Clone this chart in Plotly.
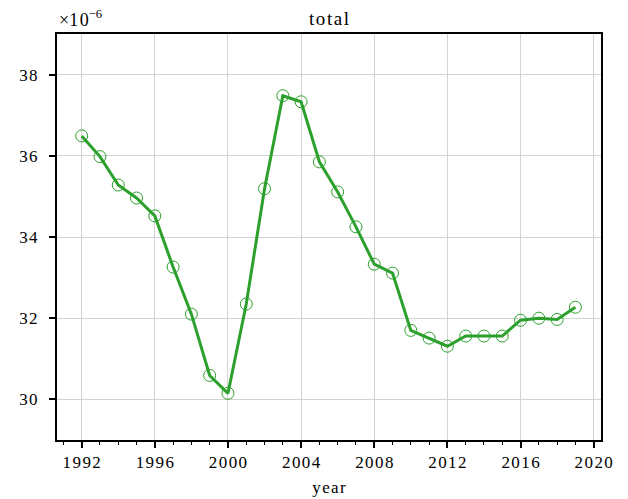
import plotly.graph_objects as go

years = list(range(1992, 2020))
total = [36.49, 35.98, 35.28, 34.96, 34.52, 33.26, 32.10, 30.59, 30.15, 32.35,
         35.19, 37.48, 37.33, 35.85, 35.11, 34.25, 33.33, 33.11, 31.70, 31.51,
         31.31, 31.56, 31.56, 31.56, 31.95, 32.00, 31.97, 32.27]
xticks = [1992, 1996, 2000, 2004, 2008, 2012, 2016, 2020]
yticks = [30, 32, 34, 36, 38]

green = "#2ca02c"
font = "Liberation Serif"
HS = "\u200a"


def spaced(s):
    return HS.join(str(s))


fig = go.Figure()
fig.add_trace(go.Scatter(
    x=years, y=total, mode="lines+markers",
    line=dict(color=green, width=3),
    marker=dict(symbol="circle-open", size=12, color=green, line=dict(width=1, color=green)),
    showlegend=False,
))

fig.update_layout(
    width=620, height=491,
    margin=dict(l=49, r=27, t=26, b=59),
    paper_bgcolor="white", plot_bgcolor="white",
    font=dict(family=font, size=17, color="black"),
    annotations=[
        dict(text=spaced("total"), xref="paper", yref="paper", x=0.5, y=1.0,
             xanchor="center", yanchor="bottom", yshift=3, showarrow=False,
             font=dict(family=font, size=19)),
        dict(text="×" + spaced("10") + "<sup>−6</sup>", xref="paper", yref="paper", x=0.0, y=1.0,
             xanchor="left", yanchor="bottom", yshift=2, showarrow=False,
             font=dict(family=font, size=18)),
    ],
)
fig.update_xaxes(
    range=[1990.65, 2020.4], tickmode="array", tickvals=xticks,
    ticktext=[spaced(t) for t in xticks],
    showgrid=True, gridcolor="#d3d3d3", gridwidth=1,
    showline=True, linecolor="black", linewidth=2, mirror=True,
    ticks="outside", ticklen=6, tickwidth=1.5, tickcolor="black",
    ticklabelstandoff=0, automargin=False,
    minor=dict(dtick=1, tick0=1992, ticks="outside", ticklen=3, tickwidth=1, tickcolor="black", showgrid=False),
    title=dict(text=spaced("year"), standoff=10, font=dict(family=font, size=17)),
    zeroline=False,
)
fig.update_yaxes(
    range=[29, 39], tickmode="array", tickvals=yticks,
    ticktext=[spaced(t) for t in yticks],
    showgrid=True, gridcolor="#d3d3d3", gridwidth=1,
    showline=True, linecolor="black", linewidth=2, mirror=True,
    ticks="outside", ticklen=6, tickwidth=1.5, tickcolor="black",
    ticklabelstandoff=8, automargin=False,
    zeroline=False,
)

fig.write_html("out.html")
